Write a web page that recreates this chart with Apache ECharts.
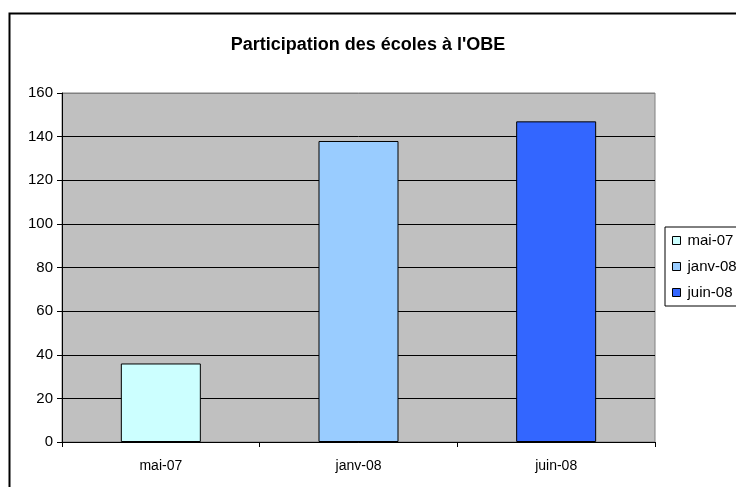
<!DOCTYPE html>
<html>
<head>
<meta charset="utf-8">
<script src="https://cdn.jsdelivr.net/npm/echarts@6/dist/echarts.min.js"></script>
<style>
  html, body { margin: 0; padding: 0; background: #fff; }
  #chart { width: 736px; height: 487px; }
</style>
</head>
<body>
<div id="chart"></div>
<script>
const categories = ['mai-07', 'janv-08', 'juin-08'];
const participants = [36, 138, 147];
const barColors = ['#CCFFFF', '#99CCFF', '#3366FF'];
const yTicks = [0, 20, 40, 60, 80, 100, 120, 140, 160];

const font = '"Liberation Sans", Arial, sans-serif';
const chart = echarts.init(document.getElementById('chart'));

// one series per month so the legend lists each bar, stacked to keep them centred
const series = categories.map((name, i) => ({
  name: name,
  type: 'bar',
  stack: 'obe',
  barWidth: 80,
  itemStyle: { color: barColors[i], borderColor: '#000', borderWidth: 1 },
  data: categories.map((c, j) => (j === i ? participants[i] : '-'))
}));

// gridlines black, the top one grey like the plot frame
const gridColors = yTicks.map((t, i) => (i === yTicks.length - 1 ? '#808080' : '#000'));

chart.setOption({
  animation: false,
  backgroundColor: '#fff',
  textStyle: { fontFamily: font },
  title: {
    text: "Participation des écoles à l'OBE",
    left: 'center',
    top: 31,
    textStyle: { fontFamily: font, fontSize: 18, fontWeight: 'bold', color: '#000' }
  },
  graphic: [{
    type: 'rect',
    left: 7, top: 11,
    shape: { width: 800, height: 600 },
    style: { fill: 'none', stroke: '#000', lineWidth: 2 },
    silent: true
  }],
  legend: {
    orient: 'vertical',
    left: 665,
    top: 227,
    data: categories,
    icon: 'rect',
    itemWidth: 8,
    itemHeight: 8,
    itemGap: 11,
    padding: [6, 10, 6, 7],
    borderColor: '#000',
    borderWidth: 1,
    itemStyle: { borderColor: '#000', borderWidth: 1 },
    textStyle: { fontFamily: font, fontSize: 15, color: '#000', padding: [0, 0, 0, 2] }
  },
  grid: {
    left: 62, top: 93, right: 81, bottom: 45,
    show: true,
    backgroundColor: '#C0C0C0',
    borderColor: '#808080',
    borderWidth: 1
  },
  xAxis: {
    type: 'category',
    data: categories,
    axisLine: { lineStyle: { color: '#000', width: 1 } },
    axisTick: { show: true, length: 5, lineStyle: { color: '#000' } },
    axisLabel: { fontFamily: font, fontSize: 14, color: '#000', margin: 17 }
  },
  yAxis: {
    type: 'value',
    min: yTicks[0],
    max: yTicks[yTicks.length - 1],
    interval: yTicks[1] - yTicks[0],
    axisLine: { show: true, lineStyle: { color: '#000', width: 1 } },
    axisTick: { show: true, length: 5, lineStyle: { color: '#000' } },
    axisLabel: { fontFamily: font, fontSize: 15, color: '#000', margin: 9 },
    splitLine: { show: true, lineStyle: { color: gridColors, width: 1 } }
  },
  series: series
});
</script>
</body>
</html>
